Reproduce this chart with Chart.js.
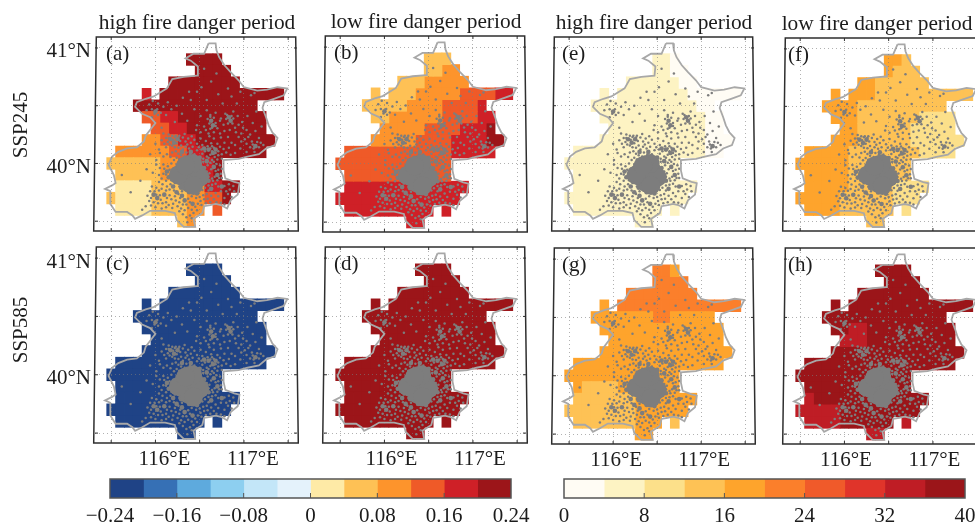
<!DOCTYPE html>
<html>
<head>
<meta charset="utf-8">
<title>fire danger maps</title>
<script src="https://cdn.jsdelivr.net/npm/chart.js@4"></script>
<style>
  html, body { margin: 0; padding: 0; background: #fff; overflow: hidden; width: 975px; height: 524px; }
  canvas { position: absolute; }
</style>
</head>
<body>
<script>
// grid cell centres, 0.1 degree
const cellLons = [115.5, 115.6, 115.7, 115.8, 115.9, 116.0, 116.1, 116.2, 116.3, 116.4, 116.5, 116.6, 116.7, 116.8, 116.9, 117.0, 117.1, 117.2, 117.3, 117.4];
const cellLats = [40.9, 40.8, 40.7, 40.6, 40.5, 40.4, 40.3, 40.2, 40.1, 40.0, 39.9, 39.8, 39.7, 39.6, 39.5];

const lonTicks = [115.5, 116, 116.5, 117, 117.5];
const lonLabels = ["", "116°E", "", "117°E", ""];
const latTicks = [39.5, 40, 40.5, 41];
const latLabels = ["", "40°N", "", "41°N"];

// colour classes, one character per cell (hex index into the colour bar, "." = outside)
const panelA = [
  ".........bbbb.......",
  "..........bbbb......",
  ".......bbbbbbbb.....",
  "....a.bbbbbbbbbbbbbb",
  "...bbbbbbbbbbbbbb...",
  "....99aabbbbbbbbbb..",
  ".....99aabbbbbbbbb..",
  "....8899aabbbbbbbbb.",
  ".88888899aabbbbbbb..",
  "7777778899aab.......",
  ".777778899aab.......",
  ".6666777788aabb.....",
  "7666677778899b......",
  ".6666777788.9.......",
  "........78.........."
];
const panelB = [
  "..........777.......",
  "..........7788......",
  ".......77788888.....",
  "....7.777888889999aa",
  "...7777788889999a...",
  "....778888889999aa..",
  ".....888889999aaab..",
  "....888889999aaaabb.",
  ".999999999999aaaaa..",
  "9999999999999.......",
  ".999999999999.......",
  ".aaaaaaaaaaaaaa.....",
  "aaaaaaaaaaaaaa......",
  ".aaaaaaaaaa.a.......",
  "........aa.........."
];
const panelC = [
  ".........0000.......",
  "..........0000......",
  ".......00000000.....",
  "....0.00000000000000",
  "...00000000000000...",
  "....00000000000000..",
  ".....0000000000000..",
  "....000000000000000.",
  ".00000000000000000..",
  "0000000000000.......",
  ".000000000000.......",
  ".00000000000000.....",
  "00000000000000......",
  ".0000000000.0.......",
  "........00.........."
];
const panelD = [
  ".........bbbb.......",
  "..........bbbb......",
  ".......bbbbbbbb.....",
  "....b.bbbbbbbbbbbbbb",
  "...bbbbbbbbbbbbbb...",
  "....bbbbbbbbbbbbbb..",
  ".....bbbbbbbbbbbbb..",
  "....bbbbbbbbbbbbbbb.",
  ".bbbbbbbbbbbbbbbbb..",
  "bbbbbbbbbbbbb.......",
  ".bbbbbbbbbbbb.......",
  ".bbbbbbbbbbbbbb.....",
  "bbbbbbbbbbbbbb......",
  ".bbbbbbbbbb.b.......",
  "........bb.........."
];
const panelE = [
  "..........110.......",
  "..........1100......",
  ".......11111100.....",
  "....1.11111111000000",
  "...11111111111100...",
  "....11111111111100..",
  ".....1111111111100..",
  "....111111111111000.",
  ".11111111111111100..",
  "1111111111111.......",
  ".111111111111.......",
  ".11111111111111.....",
  "11111111111111......",
  ".1111111111.1.......",
  "........11.........."
];
const panelF = [
  "..........443.......",
  "..........4333......",
  ".......44333333.....",
  "....4.44433333333333",
  "...44443333333333...",
  "....44433333332222..",
  ".....4433333322222..",
  "....444333333222222.",
  ".44444333333332222..",
  "4444443333333.......",
  ".444443333333.......",
  ".44444333332222.....",
  "44444333333222......",
  ".4444333333.2.......",
  "........33.........."
];
const panelG = [
  "..........554.......",
  "..........5555......",
  ".......55555555.....",
  "....4.55555555555555",
  "...44444445544444...",
  "....44444444444444..",
  ".....4444444444444..",
  "....444444444444444.",
  ".44444444444444444..",
  "4444444444444.......",
  ".433334444444.......",
  ".33333334444444.....",
  "33333333444444......",
  ".3333333444.3.......",
  "........44.........."
];
const panelH = [
  ".........9999.......",
  "..........9999......",
  ".......99999999.....",
  "....9.99999999999999",
  "...99999999999999...",
  "....99889999999999..",
  ".....8889999999999..",
  "....999999999999999.",
  ".99999999999999999..",
  "9999999999999.......",
  ".999999999999.......",
  ".89999999999999.....",
  "88888999999999......",
  ".8888999999.8.......",
  "........88.........."
];

// colour bars
const divEdges = [-0.24, -0.2, -0.16, -0.12, -0.08, -0.04, 0, 0.04, 0.08, 0.12, 0.16, 0.2, 0.24];
const divColors = ["#1f4386", "#3670b5", "#5eaadd", "#8dcff0", "#c3e6f8", "#e4f2fb", "#feeaa6", "#fec155", "#fd942c", "#ef5a28", "#cf2027", "#9c1519"];
const divTicks = [-0.24, -0.16, -0.08, 0, 0.08, 0.16, 0.24];
const divLabels = ["−0.24", "−0.16", "−0.08", "0", "0.08", "0.16", "0.24"];
const seqEdges = [0, 4, 8, 12, 16, 20, 24, 28, 32, 36, 40];
const seqColors = ["#fffcf4", "#fdf3c3", "#fce08a", "#fec255", "#fea42c", "#fb7f2b", "#f05a2a", "#e0342a", "#bf1d25", "#9b1519"];
const seqTicks = [0, 8, 16, 24, 32, 40];
const seqLabels = ["0", "8", "16", "24", "32", "40"];

// province outline, lon/lat
const outline = [
  [116.60, 41.04], [116.68, 41.04], [116.69, 40.98], [116.72, 40.92], [116.78, 40.85], [116.85, 40.79], [116.94, 40.72],
  [117.00, 40.66], [117.15, 40.63], [117.26, 40.64], [117.38, 40.66], [117.49, 40.65], [117.45, 40.59], [117.34, 40.56],
  [117.23, 40.53], [117.21, 40.48], [117.25, 40.40], [117.28, 40.33], [117.32, 40.27], [117.38, 40.22], [117.35, 40.16],
  [117.25, 40.13], [117.17, 40.08], [117.04, 40.06], [116.94, 40.04], [116.77, 40.03], [116.77, 39.94], [116.79, 39.87],
  [116.89, 39.84], [116.95, 39.83], [116.93, 39.73], [116.85, 39.68], [116.81, 39.61], [116.74, 39.64], [116.68, 39.65],
  [116.62, 39.64], [116.55, 39.63], [116.53, 39.57], [116.43, 39.52], [116.45, 39.45], [116.32, 39.45], [116.24, 39.51],
  [116.22, 39.57], [116.11, 39.59], [115.94, 39.59], [115.85, 39.55], [115.77, 39.52], [115.74, 39.55], [115.68, 39.58],
  [115.55, 39.58], [115.49, 39.65], [115.49, 39.76], [115.43, 39.78], [115.51, 39.81], [115.55, 39.83], [115.53, 39.90],
  [115.47, 39.99], [115.51, 40.06], [115.58, 40.10], [115.68, 40.13], [115.79, 40.14], [115.87, 40.19], [115.89, 40.24],
  [116.00, 40.35], [115.94, 40.40], [115.85, 40.43], [115.77, 40.49], [115.79, 40.53], [115.89, 40.56], [115.98, 40.58],
  [116.13, 40.65], [116.19, 40.73], [116.32, 40.75], [116.47, 40.76], [116.48, 40.84], [116.40, 40.89], [116.34, 40.91],
  [116.43, 40.95], [116.55, 40.95], [116.60, 41.04]
];

// built-up land: central blob, towns, scattered pixels
const cityCore = [
  [116.38, 39.90], [116.32, 39.88], [116.44, 39.88], [116.38, 39.96], [116.31, 39.93], [116.45, 39.93], [116.38, 39.83],
  [116.26, 39.90], [116.50, 39.88], [116.42, 40.00], [116.34, 39.98], [116.43, 39.81]
];
const cityTowns = [
  [116.00, 40.45], [116.17, 40.21], [116.25, 40.21], [116.21, 40.18], [116.65, 40.33], [116.63, 40.37], [116.85, 40.37],
  [116.83, 40.40], [117.13, 40.15], [116.65, 40.09], [116.60, 40.12], [116.68, 40.12], [115.98, 39.73], [116.02, 39.70],
  [116.13, 39.93], [116.55, 40.13], [116.70, 39.90], [116.60, 39.85], [116.30, 39.72], [116.33, 39.68], [116.38, 39.75],
  [116.20, 39.80], [116.15, 39.88], [116.50, 40.05], [116.40, 40.10], [116.30, 40.10], [116.10, 39.73], [116.42, 39.65],
  [116.63, 39.78], [116.75, 39.80], [116.58, 40.02], [116.66, 39.97], [116.24, 39.75], [116.28, 40.02], [116.47, 39.74],
  [116.22, 39.87], [116.21, 39.95], [116.55, 39.96], [116.56, 39.84], [116.49, 40.01], [116.29, 39.79], [116.36, 40.05]
];
const cityDots = [
  // north and far west
  [115.93, 40.51], [115.97, 40.54], [116.03, 40.52], [116.09, 40.49], [116.14, 40.53], [115.90, 40.46], [116.06, 40.44],
  [116.12, 40.42], [115.96, 40.40], [116.18, 40.47], [116.24, 40.50], [116.31, 40.57], [116.38, 40.62], [116.52, 40.66],
  [116.63, 40.71], [116.71, 40.60], [116.82, 40.65], [116.96, 40.62], [117.08, 40.59], [117.12, 40.61], [116.44, 40.47],
  [116.51, 40.41], [116.58, 40.46], [116.62, 40.42], [116.68, 40.44], [116.74, 40.39], [116.79, 40.43], [116.88, 40.45],
  [116.93, 40.41], [116.98, 40.36], [117.04, 40.41], [117.14, 40.45], [117.10, 40.35], [117.20, 40.32], [116.69, 40.78],
  [116.55, 40.82], [116.47, 40.62], [116.86, 40.58], [116.07, 40.31], [116.22, 40.36], [116.36, 40.37], [116.47, 40.33],
  [116.30, 40.43], [116.40, 40.55], [116.58, 40.55], [116.76, 40.52], [116.92, 40.52], [115.62, 39.90], [115.72, 39.75],
  [115.83, 39.85], [115.90, 39.95], [115.97, 39.92], [116.01, 40.03], [115.94, 40.08], [116.04, 40.12], [116.00, 40.17],
  [115.89, 39.63], [115.85, 39.60], [116.02, 40.47], [115.99, 40.43], [115.96, 40.47], [116.03, 40.42],
  // Huairou, Miyun
  [116.57, 40.29], [116.61, 40.345], [116.59, 40.385], [116.66, 40.395], [116.68, 40.35], [116.62, 40.30], [116.70, 40.305],
  [116.73, 40.37], [116.77, 40.335], [116.80, 40.385], [116.88, 40.39], [116.82, 40.345], [116.87, 40.345], [116.90, 40.31],
  [116.94, 40.335], [116.84, 40.29], [116.78, 40.28], [116.73, 40.26], [116.66, 40.27], [116.60, 40.26], [116.55, 40.32],
  [116.51, 40.27], [116.46, 40.29], [116.64, 40.31], [116.68, 40.325], [116.62, 40.405], [116.81, 40.42], [116.86, 40.41],
  [116.91, 40.27], [116.97, 40.26], [117.03, 40.29], [116.99, 40.31], [117.07, 40.25], [117.13, 40.28], [117.17, 40.22],
  // Pinggu
  [117.09, 40.19], [117.11, 40.13], [117.17, 40.14], [117.19, 40.18], [117.10, 40.165], [117.15, 40.185], [117.07, 40.14],
  [117.03, 40.17], [117.01, 40.21], [116.97, 40.19], [116.94, 40.23], [116.96, 40.13], [117.03, 40.10], [117.12, 40.10],
  [117.22, 40.16], [117.05, 40.23],
  // Changping
  [116.09, 40.26], [116.12, 40.22], [116.15, 40.25], [116.14, 40.185], [116.10, 40.17], [116.19, 40.24], [116.19, 40.155],
  [116.22, 40.23], [116.24, 40.175], [116.27, 40.24], [116.28, 40.195], [116.29, 40.155], [116.31, 40.225], [116.34, 40.19],
  [116.33, 40.255], [116.37, 40.215], [116.36, 40.165], [116.41, 40.235], [116.40, 40.18], [116.44, 40.205], [116.15, 40.22],
  [116.20, 40.205], [116.23, 40.24], [116.26, 40.225], [116.12, 40.14], [116.07, 40.20], [116.16, 40.165], [116.22, 40.14],
  [116.26, 40.135], [116.31, 40.12], [116.34, 40.145], [116.38, 40.13], [116.42, 40.145],
  // Shunyi
  [116.47, 40.17], [116.51, 40.215], [116.53, 40.16], [116.57, 40.195], [116.61, 40.235], [116.63, 40.175], [116.66, 40.215],
  [116.70, 40.17], [116.74, 40.225], [116.78, 40.18], [116.82, 40.23], [116.86, 40.18], [116.90, 40.16], [116.83, 40.135],
  [116.77, 40.125], [116.73, 40.145], [116.71, 40.105], [116.75, 40.08], [116.80, 40.095], [116.85, 40.075], [116.90, 40.09],
  [116.64, 40.15], [116.59, 40.15], [116.56, 40.105], [116.62, 40.075], [116.67, 40.055], [116.71, 40.07], [116.58, 40.06],
  [116.53, 40.085], [116.47, 40.115], [116.49, 40.14], [116.44, 40.08], [116.64, 40.105], [116.68, 40.09], [116.62, 40.13],
  [116.66, 40.135], [116.52, 40.12], [116.75, 40.04], [116.70, 40.035], [116.64, 40.03], [116.60, 40.05], [116.54, 40.04],
  // east of the city
  [116.71, 39.945], [116.74, 39.91], [116.72, 39.875], [116.68, 39.935], [116.67, 39.885], [116.63, 39.95], [116.61, 39.915],
  [116.64, 39.87], [116.59, 39.985], [116.62, 40.005], [116.69, 39.995], [116.73, 39.985], [116.75, 39.955], [116.66, 40.015],
  [116.58, 39.93], [116.60, 39.885], [116.56, 39.91], [116.54, 40.015], [116.75, 39.875], [116.70, 39.855], [116.65, 39.85],
  // north of the city
  [116.46, 40.045], [116.42, 40.065], [116.39, 40.08], [116.35, 40.095], [116.33, 40.06], [116.29, 40.07], [116.26, 40.085],
  [116.24, 40.05], [116.27, 40.035], [116.31, 40.03], [116.23, 40.105], [116.19, 40.095], [116.17, 40.055], [116.13, 40.08],
  [116.09, 40.06], [116.21, 40.03], [116.05, 40.09], [116.43, 40.03], [116.37, 40.025],
  // west of the city
  [116.18, 40.00], [116.24, 39.99], [116.14, 39.975], [116.09, 39.99], [116.05, 39.96], [116.10, 39.955], [116.16, 39.945],
  [116.19, 39.915], [116.09, 39.91], [116.04, 39.90], [116.07, 39.87], [116.12, 39.85], [116.18, 39.855], [116.17, 39.89],
  [116.01, 39.99], [116.12, 39.905],
  // Fangshan, western plain
  [116.22, 39.83], [116.17, 39.82], [116.13, 39.80], [116.08, 39.82], [116.04, 39.84], [116.01, 39.79], [115.96, 39.80],
  [115.94, 39.76], [115.99, 39.76], [116.04, 39.765], [116.07, 39.78], [116.12, 39.765], [116.16, 39.775], [116.21, 39.765],
  [115.91, 39.72], [115.95, 39.70], [115.93, 39.675], [115.98, 39.665], [116.01, 39.73], [116.05, 39.725], [116.06, 39.685],
  [116.03, 39.655], [116.08, 39.655], [116.13, 39.70], [116.12, 39.665], [116.16, 39.725], [116.18, 39.69], [116.15, 39.64],
  [116.20, 39.65], [116.22, 39.715], [116.23, 39.68], [116.19, 39.615], [116.12, 39.62], [116.07, 39.61], [116.00, 39.62],
  [115.95, 39.635], [116.25, 39.63], [116.27, 39.665], [116.28, 39.70], [116.26, 39.735],
  // south of the city
  [116.30, 39.76], [116.34, 39.795], [116.27, 39.80], [116.32, 39.82], [116.36, 39.775], [116.41, 39.785], [116.44, 39.755],
  [116.50, 39.795], [116.53, 39.77], [116.49, 39.76], [116.56, 39.79], [116.60, 39.765], [116.58, 39.735], [116.54, 39.725],
  [116.50, 39.71], [116.46, 39.70], [116.41, 39.715], [116.37, 39.695], [116.39, 39.665], [116.35, 39.645], [116.31, 39.645],
  [116.29, 39.61], [116.33, 39.595], [116.37, 39.615], [116.41, 39.60], [116.45, 39.625], [116.48, 39.65], [116.51, 39.675],
  [116.55, 39.69], [116.59, 39.695], [116.63, 39.72], [116.66, 39.69], [116.68, 39.745], [116.71, 39.715], [116.74, 39.76],
  [116.78, 39.70], [116.82, 39.735], [116.86, 39.71], [116.89, 39.76], [116.84, 39.775], [116.80, 39.76], [116.78, 39.805],
  [116.83, 39.82], [116.88, 39.805], [116.71, 39.80], [116.68, 39.825], [116.64, 39.815], [116.60, 39.81], [116.53, 39.82],
  [116.74, 39.66], [116.78, 39.645], [116.69, 39.665], [116.62, 39.665], [116.57, 39.655], [116.52, 39.64], [116.47, 39.595],
  [116.43, 39.57], [116.39, 39.55], [116.35, 39.535], [116.31, 39.56], [116.27, 39.585], [116.41, 39.525], [116.36, 39.49]
];

// axis limits and frame corners are layout, kept out of the data above
const lonMin = 115.317, lonMax = 117.6, latMin = 39.415, latMax = 41.095;
const textFont = '"Liberation Serif", serif';
const textColor = "#1c1c1c";
const frameColor = "#2e2e2e";

const panels = [
  { rows: panelA, colors: divColors, tag: "(a)", title: "high fire danger period", L: 95, R: 297, T: 37, B: 231, tagX: 11, titleX: 197, row: "SSP245", rowY: 88, yLabels: true },
  { rows: panelB, colors: divColors, tag: "(b)", title: "low fire danger period", L: 324, R: 526, T: 36, B: 232, tagX: 10, titleX: 426 },
  { rows: panelE, colors: seqColors, tag: "(e)", title: "high fire danger period", L: 553, R: 754, T: 37, B: 231, tagX: 9, titleX: 654 },
  { rows: panelF, colors: seqColors, tag: "(f)", title: "low fire danger period", L: 784, R: 986, T: 38, B: 231, tagX: 4, titleX: 877 },
  { rows: panelC, colors: divColors, tag: "(c)", L: 95, R: 297, T: 247, B: 443, tagX: 11, row: "SSP585", rowY: 83, yLabels: true, xLabels: true, xShift: 9 },
  { rows: panelD, colors: divColors, tag: "(d)", L: 324, R: 526, T: 247, B: 443, tagX: 10, xLabels: true, xShift: 7 },
  { rows: panelG, colors: seqColors, tag: "(g)", L: 553, R: 754, T: 248, B: 444, tagX: 9, xLabels: true, xShift: 3 },
  { rows: panelH, colors: seqColors, tag: "(h)", L: 784, R: 986, T: 248, B: 444, tagX: 4, xLabels: true, xShift: 1.5 }
];

function placeCanvas(left, top, width, height) {
  const canvas = document.createElement("canvas");
  canvas.width = width;
  canvas.height = height;
  canvas.style.left = left + "px";
  canvas.style.top = top + "px";
  canvas.style.width = width + "px";
  canvas.style.height = height + "px";
  document.body.appendChild(canvas);
  return canvas;
}

// labels must not pull the scale in from the frame
function clearScalePadding(s) {
  s.paddingLeft = 0;
  s.paddingRight = 0;
  s.paddingTop = 0;
  s.paddingBottom = 0;
}

// one floating bar per cell, one dataset per colour class
function cellDatasets(rows, colors) {
  const byClass = {};
  rows.forEach((row, j) => {
    [...row].forEach((ch, i) => {
      if (ch === ".") return;
      const cls = parseInt(ch, 16);
      (byClass[cls] = byClass[cls] || []).push({ x: cellLons[i], y: [cellLats[j] - 0.05, cellLats[j] + 0.05] });
    });
  });
  return Object.keys(byClass).map((cls) => ({
    type: "bar",
    data: byClass[cls],
    backgroundColor: colors[cls],
    grouped: false,
    barPercentage: 1,
    categoryPercentage: 1,
    inflateAmount: 0.4,
    order: 5,
  }));
}

function toXY(pairs) {
  return pairs.map((p) => ({ x: p[0], y: p[1] }));
}

function overlayDatasets() {
  const dots = (pairs, radius) => ({
    type: "scatter",
    data: toXY(pairs),
    pointRadius: radius,
    pointBackgroundColor: "#7d7d7d",
    pointBorderWidth: 0,
    order: 2,
  });
  return [
    dots(cityCore, 9.5),
    dots(cityTowns, 2.3),
    dots(cityDots, 1.25),
    {
      type: "line",
      data: toXY(outline),
      borderColor: "#a8a8a8",
      borderWidth: 1.8,
      pointRadius: 0,
      tension: 0,
      fill: false,
      order: 1,
    },
  ];
}

// slightly conic frame, inward ticks, panel tag, titles
function panelDecor(p) {
  return {
    id: "panelDecor",
    afterDraw(chart) {
      const { ctx, chartArea: a, scales } = chart;
      const tilt = 1.3;
      ctx.save();
      ctx.strokeStyle = frameColor;
      ctx.lineWidth = 1.5;
      ctx.beginPath();
      ctx.moveTo(a.left + tilt, a.top);
      ctx.lineTo(a.right - tilt, a.top);
      ctx.lineTo(a.right + tilt, a.bottom);
      ctx.lineTo(a.left - tilt, a.bottom);
      ctx.closePath();
      ctx.stroke();

      ctx.lineWidth = 1;
      ctx.beginPath();
      lonTicks.forEach((v) => {
        const x = scales.x.getPixelForValue(v);
        ctx.moveTo(x, a.top);
        ctx.lineTo(x, a.top + 3);
        ctx.moveTo(x, a.bottom);
        ctx.lineTo(x, a.bottom - 3);
      });
      latTicks.forEach((v) => {
        const y = scales.y.getPixelForValue(v);
        ctx.moveTo(a.left, y);
        ctx.lineTo(a.left + 3, y);
        ctx.moveTo(a.right, y);
        ctx.lineTo(a.right - 3, y);
      });
      ctx.stroke();

      ctx.fillStyle = textColor;
      ctx.textBaseline = "alphabetic";
      ctx.textAlign = "left";
      ctx.font = "21px " + textFont;
      ctx.fillText(p.tag, a.left + p.tagX, a.top + 23);
      if (p.title) {
        ctx.font = "21.4px " + textFont;
        ctx.textAlign = "center";
        ctx.fillText(p.title, p.titleX - p.L + a.left, a.top - 8);
      }
      if (p.row) {
        ctx.font = "21px " + textFont;
        ctx.translate(27, a.top + p.rowY);
        ctx.rotate(-Math.PI / 2);
        ctx.textAlign = "center";
        ctx.fillText(p.row, 0, 0);
      }
      ctx.restore();
    },
  };
}

function drawPanel(p) {
  const ml = p.yLabels ? p.L : 6;
  const mt = 36;
  const mb = 34;
  const mr = 6;
  const canvas = placeCanvas(p.L - ml, p.T - mt, ml + (p.R - p.L) + mr, mt + (p.B - p.T) + mb);
  const gridStyle = {
    color: "rgba(125,125,125,0.6)",
    lineWidth: 1,
    drawTicks: false,
    offset: false,
    z: 1,
  };
  return new Chart(canvas, {
    data: { datasets: [...cellDatasets(p.rows, p.colors), ...overlayDatasets()] },
    options: {
      responsive: false,
      animation: false,
      layout: { autoPadding: false, padding: { top: mt, right: mr, left: 0, bottom: 0 } },
      plugins: { legend: { display: false }, tooltip: { enabled: false } },
      scales: {
        x: {
          type: "linear",
          position: "bottom",
          offset: false,
          min: lonMin,
          max: lonMax,
          grid: gridStyle,
          border: { display: false, dash: [1, 3] },
          afterBuildTicks: (s) => { s.ticks = lonTicks.map((value) => ({ value })); },
          afterFit: (s) => { s.height = mb; clearScalePadding(s); },
          ticks: {
            autoSkip: false,
            maxRotation: 0,
            padding: 4,
            labelOffset: p.xShift || 0,
            color: textColor,
            font: { family: textFont, size: 21 },
            callback: (v, i) => (p.xLabels ? lonLabels[i] : ""),
          },
        },
        y: {
          type: "linear",
          position: "left",
          min: latMin,
          max: latMax,
          grid: gridStyle,
          border: { display: false, dash: [1, 3] },
          afterBuildTicks: (s) => { s.ticks = latTicks.map((value) => ({ value })); },
          afterFit: (s) => { s.width = ml; clearScalePadding(s); },
          ticks: {
            autoSkip: false,
            padding: 4,
            labelOffset: 4,
            color: textColor,
            font: { family: textFont, size: 21 },
            callback: (v, i) => (p.yLabels ? latLabels[i] : ""),
          },
        },
      },
    },
    plugins: [panelDecor(p)],
  });
}

function drawColorbar(left, right, top, bottom, edges, colors, ticks, labels) {
  const ml = 40;
  const mr = 30;
  const mb = 27;
  const canvas = placeCanvas(left - ml, top - 2, ml + (right - left) + mr, 2 + (bottom - top) + mb);
  return new Chart(canvas, {
    type: "bar",
    data: {
      labels: [""],
      datasets: colors.map((color, i) => ({
        data: [[edges[i], edges[i + 1]]],
        backgroundColor: color,
        grouped: false,
        barPercentage: 1,
        categoryPercentage: 1,
        inflateAmount: 0.4,
      })),
    },
    options: {
      indexAxis: "y",
      responsive: false,
      animation: false,
      layout: { autoPadding: false, padding: { top: 2, right: mr, left: ml, bottom: 0 } },
      plugins: { legend: { display: false }, tooltip: { enabled: false } },
      scales: {
        y: { display: false },
        x: {
          type: "linear",
          min: edges[0],
          max: edges[edges.length - 1],
          grid: { display: false, drawTicks: false },
          border: { display: false },
          afterBuildTicks: (s) => { s.ticks = ticks.map((value) => ({ value })); },
          afterFit: (s) => { s.height = mb; clearScalePadding(s); },
          ticks: {
            autoSkip: false,
            maxRotation: 0,
            padding: 6,
            color: textColor,
            font: { family: textFont, size: 21 },
            callback: (v, i) => labels[i],
          },
        },
      },
    },
    plugins: [{
      id: "barFrame",
      afterDraw(chart) {
        const { ctx, chartArea: a, scales } = chart;
        ctx.save();
        ctx.strokeStyle = "#555";
        ctx.lineWidth = 1.5;
        ctx.strokeRect(a.left, a.top, a.right - a.left, a.bottom - a.top);
        ctx.lineWidth = 1;
        ctx.beginPath();
        ticks.slice(1, -1).forEach((v) => {
          const x = scales.x.getPixelForValue(v);
          ctx.moveTo(x, a.bottom);
          ctx.lineTo(x, a.bottom - 5);
        });
        ctx.stroke();
        ctx.restore();
      },
    }],
  });
}

panels.forEach(drawPanel);
drawColorbar(110, 511, 479, 498, divEdges, divColors, divTicks, divLabels);
drawColorbar(564, 965, 479, 498, seqEdges, seqColors, seqTicks, seqLabels);
</script>
</body>
</html>
